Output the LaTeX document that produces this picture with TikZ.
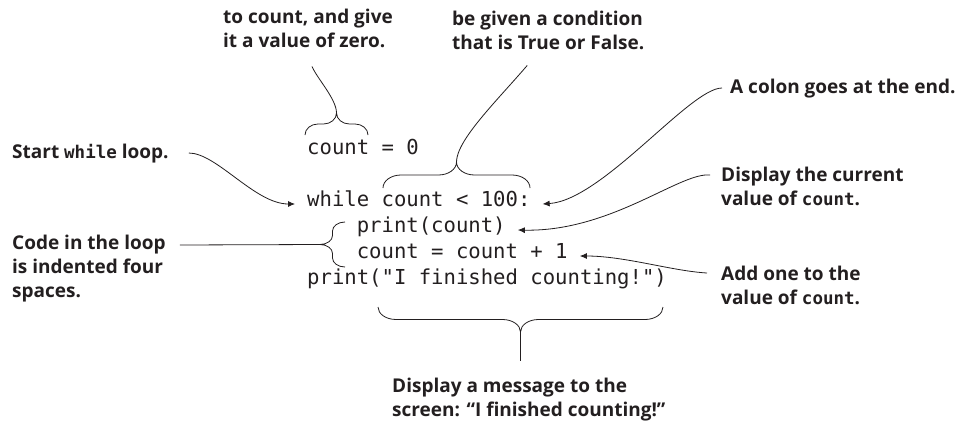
\documentclass[tikz,border=0pt]{standalone}
\usepackage{fontspec}
\setmainfont{Open Sans}
\setmonofont{DejaVu Sans Mono}
\usetikzlibrary{arrows.meta}
\definecolor{ink}{HTML}{231F20}
\newcommand\annofont{\fontsize{19}{24}\selectfont\bfseries}
\newcommand\listingfont{\fontsize{20.6}{26}\selectfont\ttfamily}
\newcommand\codeword[1]{{\fontsize{17.5}{24}\selectfont\ttfamily\bfseries #1}}
\tikzset{note/.style={font=\annofont,text=ink,align=left,inner sep=0pt,anchor=base west}}
\tikzset{codeline/.style={font=\listingfont,text=ink,inner xsep=12pt,inner ysep=0pt,anchor=mid west}}
\tikzset{leader/.style={draw=ink,line width=0.8pt}}
\tikzset{pointer/.style={leader,-{Latex[length=7pt,width=6pt]}}}
\tikzset{pics/curly/.style n args={3}{code={
  \draw[leader] (-#1,0) .. controls (-#1,-0.28*#2) and (-#1+0.45*#3,-0.5*#2) .. (-#1+#3,-0.5*#2)
    -- (-#3,-0.5*#2) .. controls (-0.45*#3,-0.5*#2) and (0,-0.72*#2) .. (0,-#2)
    .. controls (0,-0.72*#2) and (0.45*#3,-0.5*#2) .. (#3,-0.5*#2)
    -- (#1-#3,-0.5*#2) .. controls (#1-0.45*#3,-0.5*#2) and (#1,-0.28*#2) .. (#1,0);
  \coordinate (-tip) at (0,-#2);
}}}

\begin{document}
\begin{tikzpicture}[x=1pt,y=-1pt]
  \useasboundingbox[fill=white] (0,0) rectangle (960,420);
  % the program
  \node[codeline] (lcount) at (295,152) {count = 0};
  \node[codeline] (lwhile) at (295,204) {while count < 100:};
  \node[codeline] (lprint) at (344.6,230) {print(count)};
  \node[codeline] (lincr) at (344.6,256) {count = count + 1};
  \node[codeline] (lfinish) at (295,282) {print("I finished counting!")};
  % notes (base = last line)
  \node[note] (lblzero) at (223,48) {to count, and give\\it a value of zero.};
  \node[note] (lblcond) at (452,49) {be given a condition\\that is True or False.};
  \node[note] (lblcolon) at (730,93) {A colon goes at the end.};
  \node[note] (lblstart) at (12,158) {Start \codeword{while} loop.};
  \node[note] (lblindent) at (12,297) {Code in the loop\\is indented four\\spaces.};
  \node[note] (lbldisplay) at (721,205) {Display the current\\value of \codeword{count}.};
  \node[note] (lbladd) at (721,304) {Add one to the\\value of \codeword{count}.};
  \node[note] (lblmsg) at (392,416) {Display a message to the\\screen: “I finished counting!”};
  % braces
  \pic (bzero) at (336.5,135) {curly={31.5}{22}{13}};
  \pic (bcond) at (456.5,188) {curly={73.5}{26}{18}};
  \pic[rotate=90] (bindent) at (345,244.5) {curly={22.5}{25}{9}};
  \pic[rotate=180] (bmsg) at (520.5,307) {curly={142.5}{25}{18}};
  % leaders
  \draw[leader] (bzero-tip) .. controls +(0,-14) and +(5,12) .. ([xshift=4pt,yshift=-18pt]lblzero.south);
  \draw[leader] (bcond-tip) .. controls +(0,-22) and +(-30,35) .. ([xshift=-21pt,yshift=-16pt]lblcond.south);
  \draw[pointer] ([xshift=-8pt,yshift=5pt]lblcolon.base west) .. controls +(-32,0) and +(60,-4) .. (lwhile.mid east);
  \draw[pointer] ([xshift=20pt,yshift=5pt]lblstart.base east) .. controls +(28,0) and +(-40,0) .. (lwhile.mid west);
  \draw[pointer] ([xshift=-11pt,yshift=30pt]lbldisplay.base west) .. controls +(-30,-3) and +(93,2) .. (lprint.mid east);
  \draw[pointer] ([xshift=-14pt,yshift=31pt]lbladd.base west) .. controls +(-35,-2) and +(45,0) .. (lincr.mid east);
  \draw[leader] ([xshift=14pt,yshift=52pt]lblindent.base east) -- (bindent-tip);
  \draw[leader,shorten >=16pt] (bmsg-tip) -- (bmsg-tip |- lblmsg.north);
\end{tikzpicture}
\end{document}
